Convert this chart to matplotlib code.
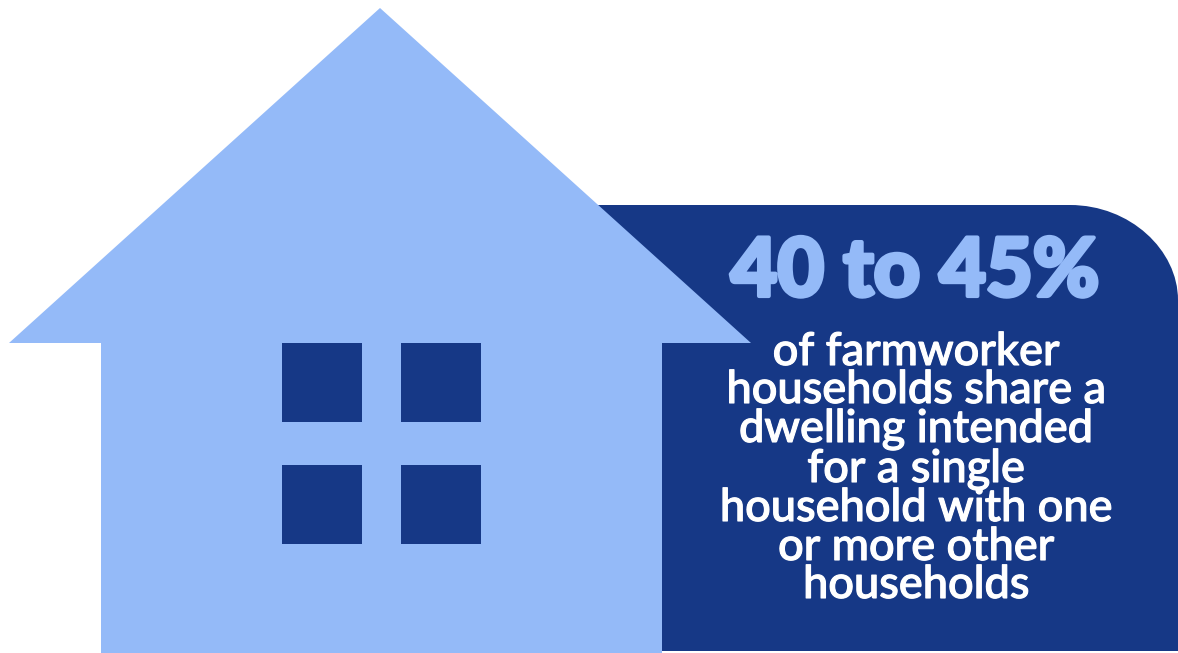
import matplotlib
matplotlib.use("Agg")
import matplotlib.pyplot as plt
import matplotlib.patheffects as pe
from matplotlib.patches import Polygon, Rectangle, PathPatch
from matplotlib.path import Path

LIGHT = "#94BAF8"
DARK = "#163886"

headline = "40 to 45%"
body_lines = ["of farmworker", "households share a", "dwelling intended", "for a single",
              "household with one", "or more other", "households"]
body_baselines = [365, 403, 442, 482, 521, 560, 598]

house_x = [380, 751, 662, 662, 101, 101, 9]
house_y = [8, 343, 343, 653, 653, 343, 343]
window_x = [282, 401]
window_y = [343, 465]
window_w = 80
window_h = 79

fig = plt.figure(figsize=(11.78, 6.53), dpi=100, facecolor="white")
ax = fig.add_axes([0, 0, 1, 1])
ax.set_xlim(0, 1178)
ax.set_ylim(653, 0)
ax.axis("off")

panel = Path(
    [(598, 205), (1070, 205), (1130, 205), (1178, 250), (1178, 300), (1178, 651), (598, 651), (598, 205)],
    [Path.MOVETO, Path.LINETO, Path.CURVE4, Path.CURVE4, Path.CURVE4, Path.LINETO, Path.LINETO, Path.CLOSEPOLY],
)
ax.add_patch(PathPatch(panel, facecolor=DARK, edgecolor="none"))
ax.add_patch(Polygon(list(zip(house_x, house_y)), closed=True, facecolor=LIGHT, edgecolor="none"))
for wy in window_y:
    for wx in window_x:
        ax.add_patch(Rectangle((wx, wy), window_w, window_h, facecolor=DARK, edgecolor="none"))

head = ax.text(915, 296, headline, color=LIGHT, family="Lato", fontweight="black", fontsize=58,
               ha="center", va="baseline")
head.set_path_effects([pe.withStroke(linewidth=3, foreground=LIGHT, joinstyle="round")])
for line, y in zip(body_lines, body_baselines):
    t = ax.text(916, y, line, color="white", family="Lato", fontweight="medium", fontsize=32.5,
                ha="center", va="baseline")
    t.set_path_effects([pe.withStroke(linewidth=0.8, foreground="white")])

fig.savefig("out.png", dpi=100, facecolor="white")
